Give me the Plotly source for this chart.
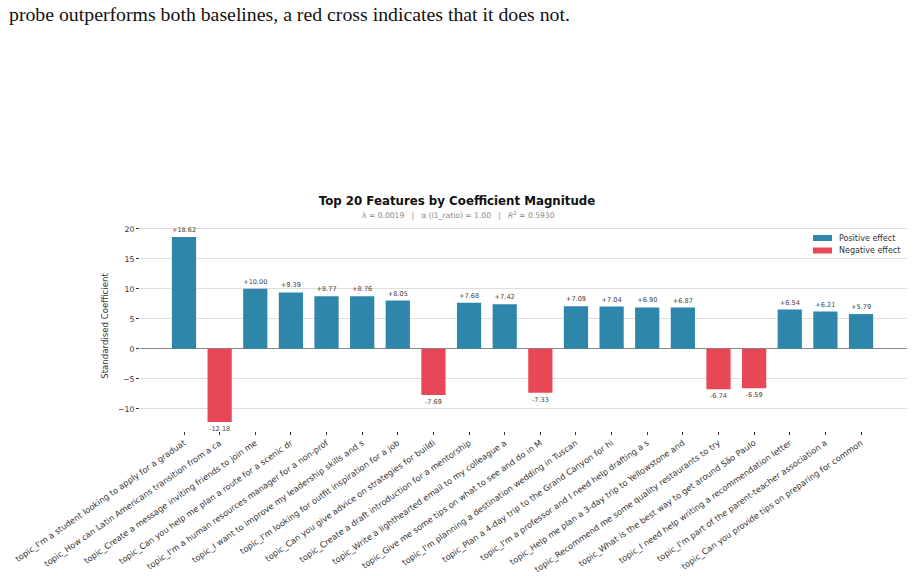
import plotly.graph_objects as go

labels = [
    "topic_I'm a student looking to apply for a graduat",
    "topic_How can Latin Americans transition from a ca",
    "topic_Create a message inviting friends to join me",
    "topic_Can you help me plan a route for a scenic dr",
    "topic_I'm a human resources manager for a non-prof",
    "topic_I want to improve my leadership skills and s",
    "topic_I'm looking for outfit inspiration for a job",
    "topic_Can you give advice on strategies for buildi",
    "topic_Create a draft introduction for a mentorship",
    "topic_Write a lighthearted email to my colleague a",
    "topic_Give me some tips on what to see and do in M",
    "topic_I'm planning a destination wedding in Tuscan",
    "topic_Plan a 4-day trip to the Grand Canyon for hi",
    "topic_I'm a professor and I need help drafting a s",
    "topic_Help me plan a 3-day trip to Yellowstone and",
    "topic_Recommend me some quality restaurants to try",
    "topic_What is the best way to get around São Paulo",
    "topic_I need help writing a recommendation letter",
    "topic_I'm part of the parent-teacher association a",
    "topic_Can you provide tips on preparing for common",
]
coefs = [18.62, -12.18, 10.00, 9.39, 8.77, 8.76, 8.05, -7.69, 7.68, 7.42,
         -7.33, 7.09, 7.04, 6.90, 6.87, -6.74, -6.59, 6.54, 6.21, 5.79]
y_ticks = [-10, -5, 0, 5, 10, 15, 20]
legend_names = ["Positive effect", "Negative effect"]

POS = "#2E86AB"
NEG = "#E84855"
FONT = "DejaVu Sans"

# plot area in pixels
L, R, T, B = 140, 907, 221, 431
W, H = R - L, B - T


def px(x):
    return (x - L) / W


def py(y):
    return (B - y) / H


idx = list(range(len(labels)))
pos_x = [i for i in idx if coefs[i] >= 0]
neg_x = [i for i in idx if coefs[i] < 0]

fig = go.Figure()
fig.add_trace(go.Bar(
    x=pos_x, y=[coefs[i] for i in pos_x], width=0.68,
    marker=dict(color=POS, line=dict(width=0)), name=legend_names[0],
    text=[f"+{coefs[i]:.2f}" for i in pos_x], textposition="outside",
    textfont=dict(size=6.6, color="#444444", family=FONT), cliponaxis=False,
))
fig.add_trace(go.Bar(
    x=neg_x, y=[coefs[i] for i in neg_x], width=0.68,
    marker=dict(color=NEG, line=dict(width=0)), name=legend_names[1],
    text=[f"{coefs[i]:.2f}" for i in neg_x], textposition="outside",
    textfont=dict(size=6.6, color="#444444", family=FONT), cliponaxis=False,
))

fig.update_layout(
    width=914, height=576,
    margin=dict(l=L, r=914 - R, t=T, b=576 - B),
    paper_bgcolor="white", plot_bgcolor="white",
    barmode="overlay",
    font=dict(family=FONT, size=8, color="#333333"),
    title=dict(text="<b>Top 20 Features by Coefficient Magnitude</b>",
               x=0.5, xref="container", xanchor="center",
               y=1 - 201 / 576, yref="container", yanchor="middle",
               font=dict(size=11.8, color="#111111", family=FONT)),
    showlegend=False,
)
fig.update_xaxes(
    range=[-1.235, 20.29], tickmode="array", tickvals=idx, ticktext=labels,
    tickangle=-35, ticks="outside", ticklen=3, tickcolor="#333333",
    showgrid=False, showline=False, zeroline=False, automargin=False,
    tickfont=dict(size=8.3, color="#333333"),
)
fig.update_yaxes(
    range=[-13.7, 21.3], tickmode="array", tickvals=y_ticks,
    ticks="outside", ticklen=3, tickcolor="#333333",
    showgrid=True, gridcolor="#dedede", gridwidth=1,
    zeroline=True, zerolinecolor="#888888", zerolinewidth=1,
    showline=False, automargin=False,
    title=dict(text="Standardised Coefficient", font=dict(size=8.6, color="#333333"), standoff=7),
    tickfont=dict(size=7.8, color="#333333"),
)

# custom legend (matplotlib-style patches)
for k, (name, col) in enumerate(zip(legend_names, [POS, NEG])):
    yc = 238 + k * 12.5
    fig.add_shape(type="rect", xref="paper", yref="paper",
                  x0=px(813), x1=px(832), y0=py(yc + 3), y1=py(yc - 3),
                  fillcolor=col, line=dict(width=0))
    fig.add_annotation(text=name, xref="paper", yref="paper",
                       x=px(837), y=py(yc), xanchor="left", yanchor="middle",
                       showarrow=False, font=dict(size=8, color="#333333", family=FONT))

fig.add_annotation(
    text="λ = 0.0019   |   α (l1_ratio) = 1.00   |   <i>R</i><sup>2</sup> = 0.5930",
    xref="paper", yref="paper", x=px(458), y=py(215),
    xanchor="center", yanchor="middle", showarrow=False,
    font=dict(size=7.6, color="#888888", family=FONT),
)
fig.add_annotation(
    text="probe outperforms both baselines, a red cross indicates that it does not.",
    xref="paper", yref="paper", x=px(7), y=py(14),
    xanchor="left", yanchor="middle", showarrow=False,
    font=dict(size=19.8, color="#111111", family="Liberation Serif"),
)

fig.write_html("out.html")
